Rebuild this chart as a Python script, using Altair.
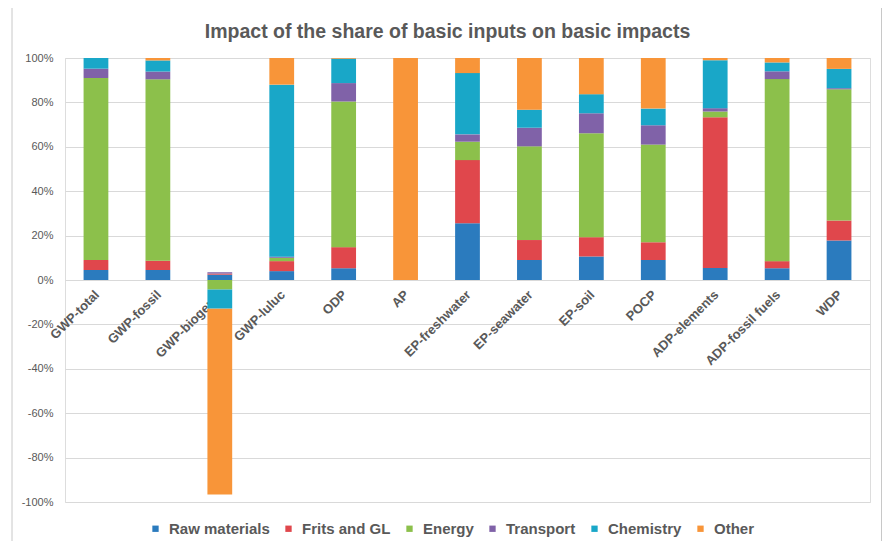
import altair as alt
import pandas as pd

categories = ["GWP-total", "GWP-fossil", "GWP-biogenic", "GWP-luluc", "ODP", "AP",
              "EP-freshwater", "EP-seawater", "EP-soil", "POCP", "ADP-elements",
              "ADP-fossil fuels", "WDP"]
series = ["Raw materials", "Frits and GL", "Energy", "Transport", "Chemistry", "Other"]
colors = ["#2B7BBE", "#E0474C", "#8CC04B", "#8062A8", "#19A7C8", "#F89539"]

raw_materials = [4.5, 4.5, 2.4, 4.0, 5.3, 0.0, 25.6, 9.0, 10.6, 9.0, 5.4, 5.3, 17.8]
frits_gl      = [4.5, 4.2, 0.5, 4.5, 9.5, 0.0, 28.4, 9.0, 8.7, 8.0, 67.9, 3.2, 9.0]
energy        = [82.0, 81.7, -4.3, 1.5, 65.6, 0.0, 8.3, 42.2, 46.8, 44.0, 2.6, 82.0, 59.1]
transport     = [4.2, 3.5, 0.6, 0.5, 8.3, 0.0, 3.3, 8.4, 9.0, 8.7, 1.5, 3.5, 0.5]
chemistry     = [4.8, 5.0, -8.6, 77.5, 11.0, 0.0, 27.6, 8.1, 8.6, 7.5, 21.6, 4.0, 8.7]
other         = [0.0, 1.1, -83.7, 12.0, 0.3, 100.0, 6.8, 23.3, 16.3, 22.8, 1.0, 2.0, 4.9]

y_ticks = [-100, -80, -60, -40, -20, 0, 20, 40, 60, 80, 100]

all_series = [raw_materials, frits_gl, energy, transport, chemistry, other]
rows = []
for i, cat in enumerate(categories):
    for j, (name, vals) in enumerate(zip(series, all_series)):
        rows.append({"category": cat, "series": name, "order": j, "value": vals[i]})
df = pd.DataFrame(rows)

FONT = "Liberation Sans"
GREY = "#595959"

bars = alt.Chart(df).mark_bar().encode(
    x=alt.X("category:N", sort=categories,
            scale=alt.Scale(paddingInner=0.6, paddingOuter=0.3),
            axis=alt.Axis(title=None, labelAngle=315, labelAlign="right", labelBaseline="top",
                          offset=-222, domain=False, ticks=False, grid=False,
                          labelPadding=8, labelOffset=-3, labelFontSize=13,
                          labelFont=FONT, labelFontWeight="bold", labelColor=GREY)),
    y=alt.Y("value:Q", stack="zero",
            scale=alt.Scale(domain=[-100, 100], nice=False),
            axis=alt.Axis(title=None, values=y_ticks, labelExpr="datum.value + '%'",
                          domain=False, ticks=False, grid=True, gridColor="#d9d9d9",
                          labelPadding=12, labelFontSize=11, labelFont=FONT,
                          labelColor=GREY)),
    color=alt.Color("series:N", scale=alt.Scale(domain=series, range=colors),
                    legend=alt.Legend(title=None, orient="none", legendX=83, legendY=463,
                                      direction="horizontal", columns=6,
                                      symbolType="square", symbolSize=40,
                                      symbolStrokeWidth=0,
                                      labelFontSize=15, labelFont=FONT,
                                      labelFontWeight="bold", labelColor=GREY,
                                      columnPadding=11, labelOffset=6)),
    order=alt.Order("order:Q", sort="ascending"),
)

frame = alt.Chart(pd.DataFrame({"f": [0]})).mark_rect(
    fill="transparent", stroke="#c8c8c8", strokeWidth=1
).encode(
    x=alt.value(-53), x2=alt.value(816.5), y=alt.value(-51), y2=alt.value(600)
)

chart = alt.layer(frame, bars).properties(
    width=805, height=444,
    title=alt.TitleParams("Impact of the share of basic inputs on basic impacts",
                          font=FONT, fontSize=19.5, fontWeight="bold", color=GREY,
                          anchor="middle", baseline="bottom", dx=-20, offset=12, dy=67),
    autosize="none",
    padding={"left": 57, "top": 50, "right": 12, "bottom": 39},
).configure_view(strokeWidth=0).configure(background="white")

chart.save("out.html", embed_options={"renderer": "svg", "actions": False})
